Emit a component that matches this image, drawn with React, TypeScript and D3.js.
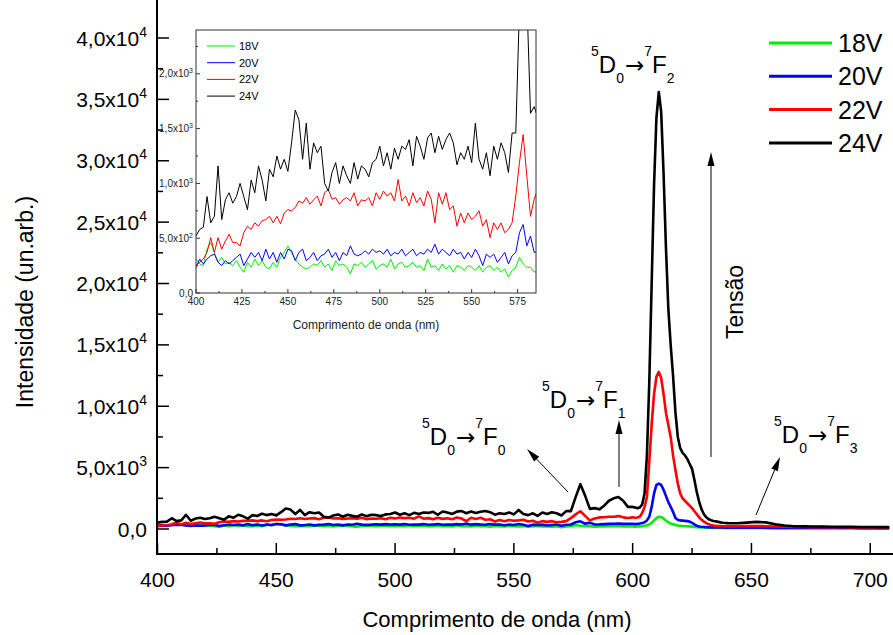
import React from "react";
import * as d3 from "d3";

// Wavelength grid (nm)
const wlA = d3.range(400, 600, 2); // 100 points
const wlB = d3.range(600, 640, 1); // 40 points
const wlC = d3.range(640, 712, 4); // 18 points
const wavelengths = [...wlA, ...wlB, ...wlC];

const series18A = [
  310, 265, 250, 400, 460, 370, 280, 325, 265, 280,
  250, 295, 235, 190, 280, 235, 310, 250, 295, 235,
  220, 280, 235, 325, 370, 430, 370, 310, 265, 235,
  220, 235, 265, 250, 295, 235, 265, 205, 295, 250,
  265, 235, 175, 265, 250, 280, 235, 265, 295, 220,
  250, 265, 235, 310, 220, 265, 280, 235, 250, 280,
  235, 250, 205, 310, 235, 250, 205, 265, 220, 250,
  190, 250, 235, 205, 250, 235, 205, 250, 190, 235,
  250, 205, 235, 190, 220, 145, 205, 235, 325, 265,
  235, 235, 190, 200, 210, 220, 230, 220, 210, 200,
];
const series18B = [
  200, 190, 200, 210, 230, 260, 300, 380, 500, 700,
  880, 1000, 980, 850, 700, 550, 450, 380, 320, 280,
  260, 240, 230, 220, 210, 190, 170, 150, 140, 130,
  120, 115, 110, 105, 100, 100, 95, 95, 90, 90,
];
const series18C = [85, 85, 80, 80, 75, 75, 70, 70, 70, 65, 65, 60, 60, 60, 55, 55, 55, 50];

const series20A = [
  235, 310, 265, 310, 340, 355, 280, 250, 295, 265,
  295, 325, 355, 250, 310, 370, 325, 370, 295, 400,
  310, 370, 280, 370, 310, 400, 385, 295, 370, 400,
  295, 325, 370, 295, 340, 355, 400, 325, 370, 295,
  370, 340, 430, 355, 340, 355, 385, 355, 400, 370,
  385, 355, 400, 340, 370, 355, 400, 340, 370, 400,
  340, 370, 355, 400, 370, 445, 355, 400, 370, 340,
  400, 355, 370, 310, 370, 325, 400, 340, 250, 355,
  325, 355, 280, 325, 370, 265, 340, 370, 550, 625,
  430, 520, 370, 380, 400, 420, 430, 440, 420, 420,
];
const series20B = [
  420, 400, 420, 440, 480, 550, 700, 1000, 1800, 2900,
  3600, 3700, 3600, 3200, 2700, 2200, 1800, 1400, 900, 750,
  700, 680, 660, 640, 600, 500, 380, 260, 210, 180,
  160, 150, 140, 135, 130, 130, 125, 120, 120, 115,
];
const series20C = [110, 110, 105, 100, 100, 95, 95, 90, 90, 85, 85, 80, 80, 80, 75, 75, 75, 70];

const series22A = [
  250, 280, 310, 370, 505, 370, 505, 400, 475, 535,
  460, 460, 430, 550, 610, 580, 640, 610, 660, 670,
  700, 640, 700, 630, 730, 760, 750, 780, 840, 820,
  870, 810, 850, 885, 795, 915, 945, 855, 870, 810,
  850, 870, 840, 915, 795, 850, 840, 870, 795, 915,
  855, 930, 885, 915, 840, 1035, 840, 885, 795, 915,
  825, 870, 795, 930, 855, 640, 915, 810, 915, 760,
  795, 610, 730, 640, 730, 670, 700, 750, 610, 670,
  505, 640, 580, 640, 550, 580, 640, 885, 1190, 1445,
  1070, 700, 855, 945, 960, 1000, 1000, 1050, 950, 900,
];
const series22B = [
  950, 920, 940, 1000, 1300, 1800, 2600, 5500, 8500, 11000,
  12400, 12800, 12300, 11000, 9500, 8500, 7500, 6000, 4800, 3700,
  2900, 2500, 2300, 2100, 1900, 1700, 1450, 1200, 950, 750,
  600, 480, 380, 320, 290, 270, 250, 240, 230, 220,
];
const series22C = [210, 220, 240, 250, 230, 200, 180, 170, 160, 150, 150, 140, 140, 130, 130, 120, 120, 120];

const series24A = [
  520, 580, 600, 880, 640, 700, 1160, 670, 850, 915,
  820, 880, 1000, 880, 760, 1030, 915, 1160, 1030, 840,
  1130, 1060, 1250, 1130, 1220, 1110, 1370, 1670, 1580, 1220,
  1550, 1130, 1370, 1280, 1340, 1000, 930, 1100, 1190, 1000,
  1160, 1070, 1000, 1190, 1040, 1160, 1130, 1060, 1190, 1220,
  1340, 1160, 1280, 1130, 1320, 1220, 1340, 1310, 1400, 1160,
  1430, 1340, 1220, 1415, 1460, 1280, 1430, 1310, 1400, 1460,
  1370, 1170, 1280, 1220, 1340, 1190, 1550, 1220, 1130, 1280,
  1070, 1340, 1220, 1370, 1280, 1100, 1460, 1460, 2600, 3650,
  2700, 1640, 1700, 1600, 1900, 2300, 2500, 2600, 2300, 1800,
];
const series24B = [
  1800, 1750, 1700, 1750, 2000, 2900, 6000, 12000, 20000, 28000,
  33500, 35600, 34000, 29000, 23000, 18000, 15000, 12500, 9500, 7500,
  6600, 6200, 6000, 5700, 5300, 4900, 4000, 3000, 2200, 1600,
  1200, 950, 800, 720, 660, 620, 580, 540, 510, 490,
];
const series24C = [480, 470, 520, 580, 540, 380, 280, 230, 210, 200, 190, 180, 170, 170, 160, 160, 150, 150];

const seriesNames = ["18V", "20V", "22V", "24V"];
const seriesColors = ["#00ee00", "#0000ff", "#ff0000", "#000000"];
const seriesValues = [
  [...series18A, ...series18B, ...series18C],
  [...series20A, ...series20B, ...series20C],
  [...series22A, ...series22B, ...series22C],
  [...series24A, ...series24B, ...series24C],
];

const xTicksMain = [400, 450, 500, 550, 600, 650, 700];
const yTicksMain = [0, 5000, 10000, 15000, 20000, 25000, 30000, 35000, 40000];
const yTickLabelsMain = [
  ["0,0", ""], ["5,0x10", "3"], ["1,0x10", "4"], ["1,5x10", "4"], ["2,0x10", "4"],
  ["2,5x10", "4"], ["3,0x10", "4"], ["3,5x10", "4"], ["4,0x10", "4"],
];
const xTicksInset = [400, 425, 450, 475, 500, 525, 550, 575];
const yTicksInset = [0, 500, 1000, 1500, 2000];
const yTickLabelsInset = [["0,0", ""], ["5,0x10", "2"], ["1,0x10", "3"], ["1,5x10", "3"], ["2,0x10", "3"]];

const FONT = "'Liberation Sans', Arial, sans-serif";

function Transition({ x, y, sub }: { x: number; y: number; sub: string }) {
  return (
    <text x={x} y={y} fontSize={24} fontFamily={FONT} fill="#000">
      <tspan fontSize={14} dy={-17}>5</tspan>
      <tspan dy={17}>D</tspan>
      <tspan fontSize={14} dy={10}>0</tspan>
      <tspan dy={-10} dx={1} fontFamily="'DejaVu Sans', sans-serif" fontSize={23}>→</tspan>
      <tspan fontSize={14} dy={-17}>7</tspan>
      <tspan dy={17}>F</tspan>
      <tspan fontSize={14} dy={10}>{sub}</tspan>
    </text>
  );
}

function Arrow({ x1, y1, x2, y2 }: { x1: number; y1: number; x2: number; y2: number }) {
  const dx = x2 - x1, dy = y2 - y1;
  const len = Math.hypot(dx, dy);
  const ux = dx / len, uy = dy / len;
  const hl = 14, hw = 3.5;
  const bx = x2 - ux * hl, by = y2 - uy * hl;
  const head = `M${x2},${y2} L${bx - uy * hw},${by + ux * hw} L${bx + uy * hw},${by - ux * hw} Z`;
  return (
    <g>
      <line x1={x1} y1={y1} x2={bx} y2={by} stroke="#000" strokeWidth={1} />
      <path d={head} fill="#000" />
    </g>
  );
}

export default function App() {
  const W = 893, H = 635;
  const x = d3.scaleLinear().domain([400, 710]).range([157.5, 894]);
  const y = d3.scaleLinear().domain([0, 40000]).range([529, 38]);
  const plotLeft = 157, plotBottom = 554;

  const ix = d3.scaleLinear().domain([400, 585]).range([196, 536]);
  const iy = d3.scaleLinear().domain([0, 2400]).range([293, 30]);

  const mainLine = d3.line<number>().x((_, i) => x(wavelengths[i])).y((v) => y(v));
  const insetLine = d3.line<number>().x((_, i) => ix(wavelengths[i])).y((v) => iy(v));

  const xMinorMain = d3.range(425, 710, 50);
  const yMinorMain = d3.range(2500, 42500, 5000);
  const xMinorInset = d3.range(412.5, 585, 25);
  const yMinorInset = d3.range(250, 2400, 500);

  return (
    <div style={{ position: "absolute", left: 0, top: 0 }}>
      <svg width={W} height={H} style={{ display: "block", background: "#fff" }}>
        <defs>
          <clipPath id="mainClip">
            <rect x={plotLeft} y={0} width={W - plotLeft} height={plotBottom} />
          </clipPath>
          <clipPath id="insetClip">
            <rect x={196} y={30} width={340} height={263} />
          </clipPath>
        </defs>

        {/* main series */}
        <g clipPath="url(#mainClip)">
          {seriesValues.map((vals, k) => (
            <path key={k} d={mainLine(vals) || ""} fill="none" stroke={seriesColors[k]}
              strokeWidth={2.6} strokeLinejoin="round" />
          ))}
        </g>

        {/* inset */}
        <g>
          <rect x={196} y={30} width={340} height={263} fill="#fff" />
          <g clipPath="url(#insetClip)">
            {seriesValues.map((vals, k) => (
              <path key={k} d={insetLine(vals) || ""} fill="none" stroke={seriesColors[k]}
                strokeWidth={1} strokeLinejoin="round" />
            ))}
          </g>
          <rect x={196} y={30} width={340} height={263} fill="none" stroke="#333" strokeWidth={1} />
          {xTicksInset.map((t) => (
            <g key={t}>
              <line x1={ix(t)} x2={ix(t)} y1={293} y2={289} stroke="#333" />
              <text x={ix(t)} y={305} fontSize={10} textAnchor="middle" fontFamily={FONT} fill="#222">{t}</text>
            </g>
          ))}
          {xMinorInset.map((t) => (
            <line key={t} x1={ix(t)} x2={ix(t)} y1={293} y2={291} stroke="#333" />
          ))}
          {yTicksInset.map((t, i) => (
            <g key={t}>
              <line x1={196} x2={200} y1={iy(t)} y2={iy(t)} stroke="#333" />
              <text x={193} y={iy(t) + 3.5} fontSize={10} textAnchor="end" fontFamily={FONT} fill="#222">
                <tspan>{yTickLabelsInset[i][0]}</tspan>
                {yTickLabelsInset[i][1] && <tspan fontSize={7} dy={-4}>{yTickLabelsInset[i][1]}</tspan>}
              </text>
            </g>
          ))}
          {yMinorInset.map((t) => (
            <line key={t} x1={196} x2={198} y1={iy(t)} y2={iy(t)} stroke="#333" />
          ))}
          <text x={366} y={329} fontSize={12} textAnchor="middle" fontFamily={FONT} fill="#222">
            Comprimento de onda (nm)
          </text>
          {seriesNames.map((n, k) => (
            <g key={n}>
              <line x1={207} x2={235} y1={46 + k * 16.7} y2={46 + k * 16.7} stroke={seriesColors[k]} strokeWidth={1} />
              <text x={239} y={46 + k * 16.7 + 4} fontSize={11} fontFamily={FONT} fill="#000">{n}</text>
            </g>
          ))}
        </g>

        {/* main axes */}
        <line x1={plotLeft} x2={plotLeft} y1={0} y2={plotBottom + 1} stroke="#000" strokeWidth={2} />
        <line x1={plotLeft - 1} x2={W} y1={plotBottom} y2={plotBottom} stroke="#000" strokeWidth={2} />
        {xTicksMain.map((t) => (
          <g key={t}>
            <line x1={x(t)} x2={x(t)} y1={plotBottom} y2={plotBottom - 11} stroke="#000" strokeWidth={1.5} />
            <text x={x(t)} y={587} fontSize={21} textAnchor="middle" fontFamily={FONT}>{t}</text>
          </g>
        ))}
        {xMinorMain.map((t) => (
          <line key={t} x1={x(t)} x2={x(t)} y1={plotBottom} y2={plotBottom - 6} stroke="#000" strokeWidth={1.5} />
        ))}
        {yTicksMain.map((t, i) => (
          <g key={t}>
            <line x1={plotLeft} x2={plotLeft + 12} y1={y(t)} y2={y(t)} stroke="#000" strokeWidth={1.5} />
            <text x={147} y={y(t) + 7.5} fontSize={21} textAnchor="end" fontFamily={FONT}>
              <tspan>{yTickLabelsMain[i][0]}</tspan>
              {yTickLabelsMain[i][1] && <tspan fontSize={14} dy={-9}>{yTickLabelsMain[i][1]}</tspan>}
            </text>
          </g>
        ))}
        {yMinorMain.map((t) => (
          <line key={t} x1={plotLeft} x2={plotLeft + 6} y1={y(t)} y2={y(t)} stroke="#000" strokeWidth={1.5} />
        ))}

        {/* axis titles */}
        <text x={497} y={627} fontSize={22} textAnchor="middle" fontFamily={FONT}>Comprimento de onda (nm)</text>
        <text transform="translate(33,302) rotate(-90)" fontSize={23} textAnchor="middle" fontFamily={FONT}>
          Intensidade (un.arb.)
        </text>

        {/* main legend */}
        {seriesNames.map((n, k) => (
          <g key={n}>
            <line x1={769} x2={832} y1={43 + k * 33.3} y2={43 + k * 33.3} stroke={seriesColors[k]} strokeWidth={3} />
            <text x={838} y={43 + k * 33.3 + 9} fontSize={25} fontFamily={FONT}>{n}</text>
          </g>
        ))}

        {/* annotations */}
        <Transition x={591} y={73} sub="2" />
        <Transition x={542} y={408} sub="1" />
        <Transition x={422} y={445} sub="0" />
        <Transition x={774} y={443} sub="3" />
        <Arrow x1={568} y1={492} x2={527} y2={449} />
        <Arrow x1={619} y1={487} x2={619} y2={420} />
        <Arrow x1={756} y1={515} x2={780} y2={457} />
        <Arrow x1={711} y1={457} x2={711} y2={152} />
        <text transform="translate(743,302) rotate(-90)" fontSize={23} textAnchor="middle" fontFamily={FONT}>
          Tensão
        </text>
      </svg>
    </div>
  );
}
